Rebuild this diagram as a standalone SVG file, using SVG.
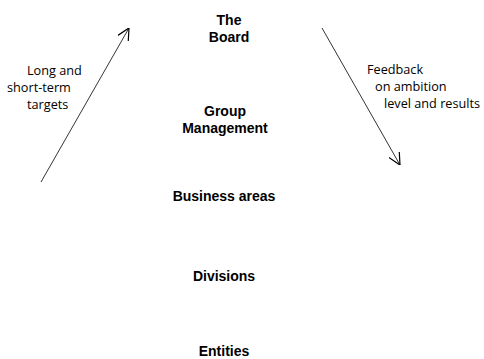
<svg xmlns="http://www.w3.org/2000/svg" width="484" height="359" viewBox="0 0 484 359">
<style>
.n{font-family:"Liberation Sans",Arial,sans-serif;font-weight:bold;font-size:14px;fill:#000;text-anchor:middle}
.l{font-family:"Open Sans","Noto Sans",sans-serif;font-size:12.7px;fill:#000}
.c{stroke:#000;stroke-width:0.8;fill:none}
</style>
<defs>
<marker id="a" viewBox="0 0 10 10" refX="10" refY="5" markerWidth="12" markerHeight="12" markerUnits="userSpaceOnUse" orient="auto">
<path d="M0,0 L10,5 L0,10" fill="none" stroke="#000" stroke-width="1"/>
</marker>
</defs>
<g id="connectors">
<line class="c" x1="41" y1="182" x2="129" y2="28" marker-end="url(#a)"/>
<line class="c" x1="322" y1="28" x2="400" y2="165" marker-end="url(#a)"/>
</g>
<g id="board"><text class="n" y="25"><tspan x="229">The</tspan><tspan x="229" dy="17">Board</tspan></text></g>
<g id="group"><text class="n" y="116"><tspan x="225">Group</tspan><tspan x="225" dy="17">Management</tspan></text></g>
<g id="business"><text class="n" x="224" y="201">Business areas</text></g>
<g id="divisions"><text class="n" x="224" y="281">Divisions</text></g>
<g id="entities"><text class="n" x="224" y="356">Entities</text></g>
<g id="label-left"><text class="l" y="75"><tspan x="27">Long and</tspan><tspan x="7" dy="17">short-term</tspan><tspan x="27" dy="17">targets</tspan></text></g>
<g id="label-right"><text class="l" y="74"><tspan x="367">Feedback</tspan><tspan x="375" dy="17">on ambition</tspan><tspan x="384" dy="17">level and results</tspan></text></g>
</svg>
